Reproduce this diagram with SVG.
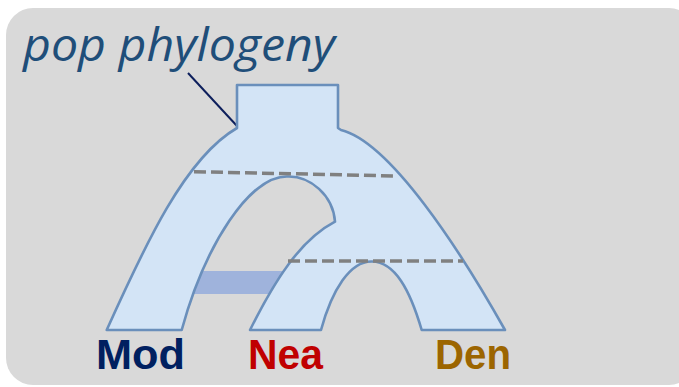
<svg xmlns="http://www.w3.org/2000/svg" width="679" height="387" viewBox="0 0 679 387">
<style>
.pop{fill:#d3e4f6;stroke:#6a8fbb;stroke-width:2.6;stroke-linejoin:round}
.split{fill:none;stroke:#808080;stroke-width:3.5;stroke-dasharray:12 5}
.lab{font-family:"Liberation Sans",Arial,sans-serif;font-weight:bold;font-size:43px}
</style>
<rect x="6" y="8" width="690" height="377" rx="27" fill="#d9d9d9"/>
<text x="23" y="61" font-family="'Open Sans',sans-serif" font-style="italic" font-size="46" fill="#1f4e79" textLength="312" lengthAdjust="spacingAndGlyphs">pop phylogeny</text>
<g id="connectors">
<line x1="188" y1="73" x2="237" y2="126" stroke="#0d1f5c" stroke-width="2"/>
</g>
<g id="geneflow">
<rect x="185" y="271" width="110" height="23" fill="#9fb3dc"/>
</g>
<g id="phylogeny">
<path class="pop" d="M237,85 H338 V128 L341,130 C390,142 460,250 505,330 L421.7,330 C410,290 395,262 372,261.5 C350,261 332,290 321,330 L250,330 C275,280 300,240 335,221.7 C333,195 310,176 288,176.5 C250,175 205,245 181.7,330 L106.7,330 C145,245 185,158 237,128 Z"/>
<line class="split" x1="194" y1="171.7" x2="397" y2="176"/>
<line class="split" x1="288" y1="261" x2="463" y2="261"/>
</g>
<g id="Mod"><text class="lab" x="96" y="369" fill="#002060" textLength="89" lengthAdjust="spacingAndGlyphs">Mod</text></g>
<g id="Nea"><text class="lab" x="248" y="369" fill="#c00000" textLength="75" lengthAdjust="spacingAndGlyphs">Nea</text></g>
<g id="Den"><text class="lab" x="435" y="369" fill="#9c6500" textLength="76" lengthAdjust="spacingAndGlyphs">Den</text></g>
</svg>
